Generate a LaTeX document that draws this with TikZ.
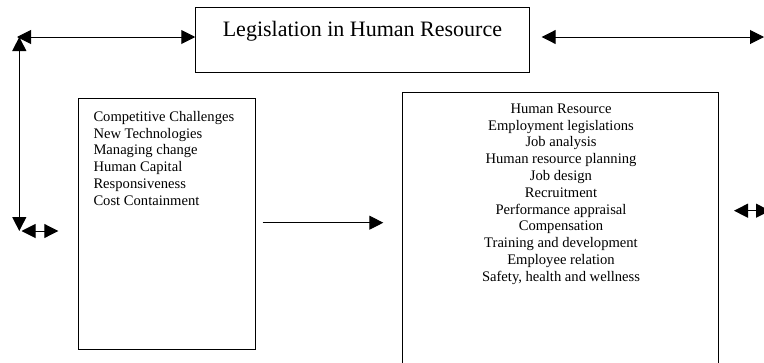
\documentclass[tikz,border=0pt]{standalone}
\usepackage{fontspec}
\setmainfont{Liberation Serif}
\usetikzlibrary{arrows.meta}
\tikzset{
  box/.style={draw, line width=1pt, inner sep=0pt},
  link/.style={line width=1pt, {Triangle[length=14pt,width=14pt]}-{Triangle[length=14pt,width=14pt]}},
  onelink/.style={line width=1pt, -{Triangle[length=14pt,width=14pt]}},
  listtext/.style={inner sep=0pt, font=\fontsize{14.6}{16.8}\selectfont}
}
\begin{document}
\begin{tikzpicture}[x=1pt,y=-1pt]
\useasboundingbox (0,0) rectangle (764,362);
\node[box, minimum width=333.3pt, minimum height=65.4pt] (leg) at (362.4,40){};
\node[inner sep=0pt, anchor=base, font=\fontsize{22}{26}\selectfont] (legtext) at (362.4,36){Legislation in Human Resource};
\node[box, minimum width=176.7pt, minimum height=250.7pt] (chal) at (166.7,223.7){};
\node[listtext, anchor=north west, align=left] (chaltext) at (93.3,111){Competitive Challenges\\New Technologies\\Managing change\\Human Capital\\Responsiveness\\Cost Containment};
\node[box, minimum width=315.6pt, minimum height=277.4pt] (hrm) at (560.5,231){};
\node[listtext, anchor=north, align=center] (hrmtext) at (561,103.5){Human Resource\\Employment legislations\\Job analysis\\Human resource planning\\Job design\\Recruitment\\Performance appraisal\\Compensation\\Training and development\\Employee relation\\Safety, health and wellness};
\coordinate (tl) at (17,37);
\coordinate (tv) at (19.3,37);
\coordinate (bl) at (19.3,231);
\coordinate (sl) at (21.5,231);
\coordinate (sr) at (58.3,231);
\coordinate (tr) at (541.7,37);
\coordinate (te) at (764,37);
\coordinate (rl) at (734,210.7);
\coordinate (rr) at (770,210.7);
\coordinate (mid) at (383.3,222.7);
\draw[link] (tl) -- (leg.west |- tl);
\draw[link] (tv) -- (bl);
\draw[link] (sl) -- (sr);
\draw[link] (tr) -- (te);
\draw[link] (rl) -- (rr);
\draw[onelink] ([xshift=7pt]chal.east |- mid) -- (mid);
\end{tikzpicture}
\end{document}
